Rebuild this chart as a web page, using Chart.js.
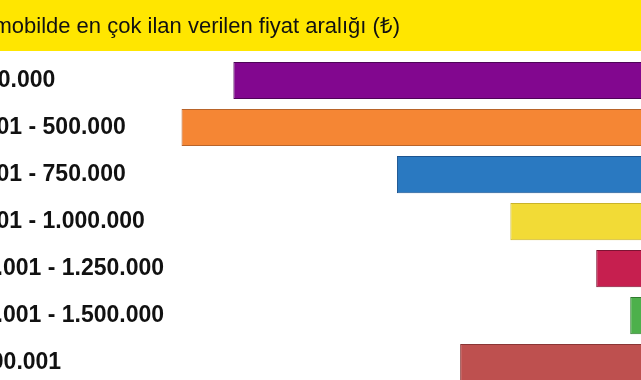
<!DOCTYPE html>
<html lang="tr">
<head>
<meta charset="UTF-8">
<title>Fiyat aralığı</title>
<script src="https://cdn.jsdelivr.net/npm/chart.js"></script>
<style>
  html, body { margin: 0; padding: 0; background: #fff; overflow: hidden; }
  body { width: 641px; height: 380px; position: relative; }
  /* the picture is a crop: the chart runs past the left and right edges */
  #wrap { position: absolute; left: -61px; top: 0; width: 722px; height: 400px; }
</style>
</head>
<body>
<div id="wrap"><canvas id="chart"></canvas></div>
<script>
const title = 'Otomobilde en çok ilan verilen fiyat aralığı (₺)';

const ranges = [
  '0 - 250.000',
  '250.001 - 500.000',
  '500.001 - 750.000',
  '750.001 - 1.000.000',
  '1.000.001 - 1.250.000',
  '1.250.001 - 1.500.000',
  '> 1.500.001'
];

// share of listings (%)
const shares = [26.4, 29.6, 16.3, 9.3, 4.0, 1.9, 12.4];

const barColors = ['#82078F', '#F58634', '#2A79C1', '#F2DB36', '#C61F4F', '#4DB04B', '#BE504F'];
const borderColors = ['#4E0457', '#B8642A', '#1C5490', '#C9B32A', '#7E1333', '#2F7A2E', '#8A3636'];

// yellow band with the heading
const headerBand = {
  id: 'headerBand',
  beforeDraw(chart) {
    const ctx = chart.ctx;
    ctx.save();
    ctx.fillStyle = '#FFE600';
    ctx.fillRect(0, 0, chart.width, 51);
    ctx.fillStyle = '#111';
    ctx.font = '22px "Liberation Sans", Arial, sans-serif';
    ctx.textBaseline = 'alphabetic';
    ctx.fillText(title, 19, 33);
    ctx.restore();
  }
};

const ctx = document.getElementById('chart').getContext('2d');
const chart = new Chart(ctx, {
  type: 'bar',
  data: {
    labels: ranges,
    datasets: [{
      data: shares,
      backgroundColor: barColors,
      borderColor: borderColors,
      borderWidth: 1,
      barPercentage: 0.79,
      categoryPercentage: 1
    }]
  },
  options: {
    indexAxis: 'y',
    responsive: true,
    maintainAspectRatio: false,
    animation: false,
    devicePixelRatio: 1,
    layout: { padding: { top: 57, bottom: 7, left: 0, right: 0 } },
    plugins: {
      legend: { display: false },
      tooltip: { enabled: false }
    },
    scales: {
      x: {
        reverse: true,
        min: 0,
        max: 30.25,
        display: false
      },
      y: {
        position: 'left',
        grid: { display: false },
        border: { display: false },
        ticks: {
          crossAlign: 'far',
          padding: 0,
          color: '#111',
          font: { family: '"Liberation Sans", Arial, sans-serif', size: 23, weight: 'bold' }
        },
        afterFit(scale) { scale.width = 232; }
      }
    }
  },
  plugins: [headerBand]
});
</script>
</body>
</html>
